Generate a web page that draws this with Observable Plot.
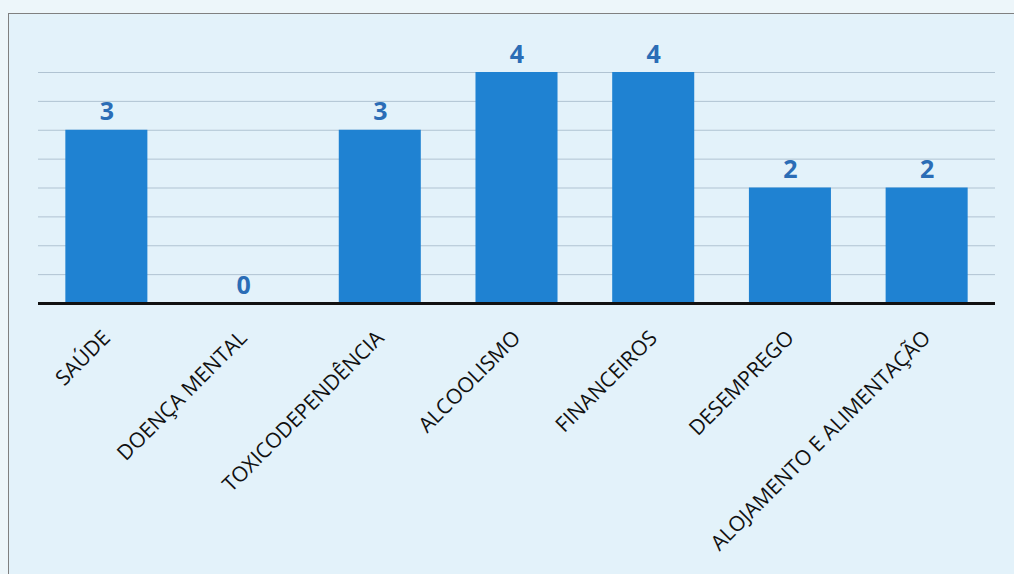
<!DOCTYPE html>
<html>
<head>
<meta charset="utf-8">
<script src="https://cdn.jsdelivr.net/npm/d3@7"></script>
<script src="https://cdn.jsdelivr.net/npm/@observablehq/plot@0.6"></script>
<style>
  html, body { margin: 0; padding: 0; background: #edf6fa; overflow: hidden; width: 1014px; height: 574px; }
  /* page panel whose left and top edges show inside the view */
  #panel { position: absolute; left: 8px; top: 13px; width: 1100px; height: 700px;
           background: #e3f2fa; border-left: 1.5px solid #808080; border-top: 1.5px solid #808080; }
  #chart { position: absolute; left: 0; top: 0; }
  #chart svg { display: block; }
</style>
</head>
<body>
<div id="panel"></div>
<div id="chart"></div>
<script>
// Problemas identificados por categoria
const categories = [
  "SAÚDE",
  "DOENÇA MENTAL",
  "TOXICODEPENDÊNCIA",
  "ALCOOLISMO",
  "FINANCEIROS",
  "DESEMPREGO",
  "ALOJAMENTO E ALIMENTAÇÃO"
];
const counts = [3, 0, 3, 4, 4, 2, 2];
const gridValues = [0.5, 1, 1.5, 2, 2.5, 3, 3.5, 4];

const data = categories.map((c, i) => ({category: c, value: counts[i]}));

const chart = Plot.plot({
  width: 1014,
  height: 574,
  marginLeft: 38,
  marginRight: 19,
  marginTop: 72,
  marginBottom: 271,
  style: {background: "transparent", fontFamily: "Open Sans, sans-serif"},
  x: {domain: categories, paddingInner: 0.4, paddingOuter: 0.2, round: false, label: null},
  y: {domain: [0, 4], label: null},
  marks: [
    Plot.gridY(gridValues, {stroke: "#b0c3d2", strokeOpacity: 1, strokeWidth: 1}),
    Plot.barY(data, {x: "category", y: "value", fill: "#1f82d2"}),
    Plot.text(data, {x: "category", y: "value", text: d => String(d.value),
      dy: -18, fill: "#2b6db6", fontSize: 25, fontWeight: "bold"}),
    Plot.ruleY([0], {stroke: "#111", strokeWidth: 3}),
    Plot.axisX({tickSize: 0, tickRotate: -45, tickPadding: 31, fontSize: 21,
      fill: "#111", label: null}),
    Plot.axisY({ticks: [], label: null, tickSize: 0})
  ]
});

document.getElementById("chart").appendChild(chart);
</script>
</body>
</html>
